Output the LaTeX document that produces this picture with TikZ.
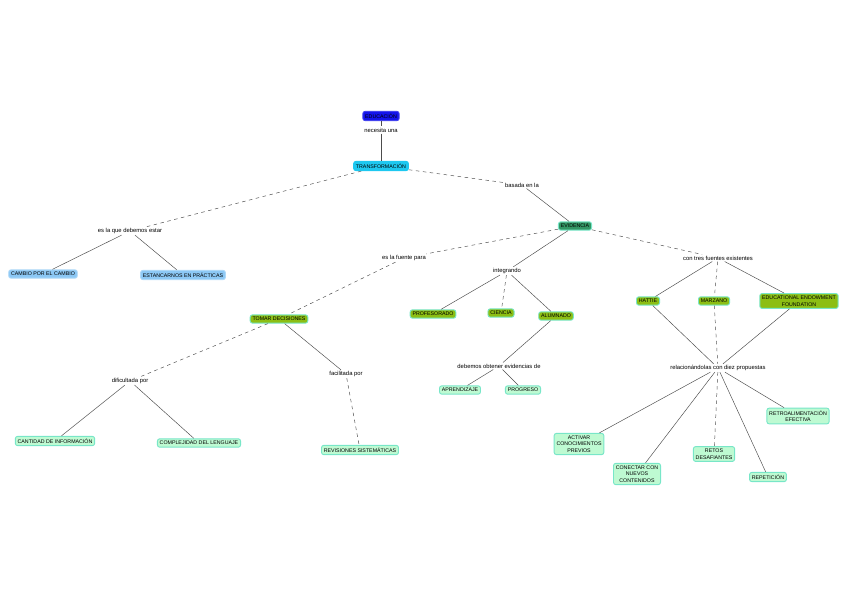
\documentclass[tikz,border=0pt]{standalone}
\usepackage{fontspec}
\setmainfont{Liberation Sans}
\usetikzlibrary{positioning}

\definecolor{cblue}{RGB}{20,20,235}
\definecolor{ccyan}{RGB}{30,200,240}
\definecolor{cteal}{RGB}{50,150,100}
\definecolor{clblue}{RGB}{140,200,245}
\definecolor{cgreen}{RGB}{140,190,20}
\definecolor{cmint}{RGB}{190,250,210}
\definecolor{cedge}{RGB}{120,230,200}

\begin{document}
\begin{tikzpicture}
    [%%%%%%%%%%%%%%%%%%%%%%%%%%%%%%
    x=0.03cm, y=-0.03cm,
    box/.style={rectangle,rounded corners=2pt,draw=cedge,thick,font=\fontsize{4.5}{5.5}\selectfont,inner sep=2pt,align=center},
    lnk/.style={font=\fontsize{5}{6}\selectfont,inner sep=1pt,fill=white},
    dsh/.style={draw=black!70,dashed,thin},
    sld/.style={draw=black!70,thin},
    ]%%%%%%%%%%%%%%%%%%%%%%%%%%%%%%
    \useasboundingbox (0,0) rectangle (848,599);

    % top
    \node[box,fill=cblue,draw=cblue!80] at (381,116) (educ) {EDUCACIÓN};
    \node[lnk] at (381,130) (necesita) {necesita una};
    \node[box,fill=ccyan,draw=ccyan] at (381,166) (transf) {TRANSFORMACIÓN};
    \node[lnk] at (522,185) (basada) {basada en la};
    \node[box,fill=cteal,draw=cedge] at (575,226) (evid) {EVIDENCIA};

    % left
    \node[lnk] at (130,231) (debemos) {es la que debemos estar};
    \node[box,fill=clblue,draw=clblue!70] at (43,274) (cambio) {CAMBIO POR EL CAMBIO};
    \node[box,fill=clblue,draw=clblue!70] at (183,275) (estancar) {ESTANCARNOS EN PRÁCTICAS};

    % decisiones
    \node[lnk] at (404,258) (fuente) {es la fuente para};
    \node[box,fill=cgreen] at (279,319) (tomar) {TOMAR DECISIONES};
    \node[lnk] at (130,381) (dificultada) {dificultada por};
    \node[box,fill=cmint] at (55,441) (cantidad) {CANTIDAD DE INFORMACIÓN};
    \node[box,fill=cmint] at (199,443) (complejidad) {COMPLEJIDAD DEL LENGUAJE};
    \node[lnk] at (346,374) (facilitada) {facilitada por};
    \node[box,fill=cmint] at (360,450) (revisiones) {REVISIONES SISTEMÁTICAS};

    % integrando
    \node[lnk] at (507,271) (integrando) {integrando};
    \node[box,fill=cgreen] at (433,314) (profesorado) {PROFESORADO};
    \node[box,fill=cgreen] at (501,313) (ciencia) {CIENCIA};
    \node[box,fill=cgreen] at (556,316) (alumnado) {ALUMNADO};
    \node[lnk] at (499,366) (obtener) {debemos obtener evidencias de};
    \node[box,fill=cmint] at (460,390) (aprendizaje) {APRENDIZAJE};
    \node[box,fill=cmint] at (523,390) (progreso) {PROGRESO};

    % fuentes
    \node[lnk] at (718,258) (tres) {con tres fuentes existentes};
    \node[box,fill=cgreen] at (648,301) (hattie) {HATTIE};
    \node[box,fill=cgreen] at (714,301) (marzano) {MARZANO};
    \node[box,fill=cgreen] at (799,301) (eef) {EDUCATIONAL ENDOWMENT\\FOUNDATION};
    \node[lnk] at (718,368) (diez) {relacionándolas con diez propuestas};
    \node[box,fill=cmint] at (579,444) (activar) {ACTIVAR\\CONOCIMIENTOS\\PREVIOS};
    \node[box,fill=cmint] at (637,474) (conectar) {CONECTAR CON\\NUEVOS\\CONTENIDOS};
    \node[box,fill=cmint] at (714,454) (retos) {RETOS\\DESAFIANTES};
    \node[box,fill=cmint] at (768,477) (repeticion) {REPETICIÓN};
    \node[box,fill=cmint] at (798,416) (retro) {RETROALIMENTACIÓN\\EFECTIVA};

    % connectors
    \begin{scope}[on background layer/.style={}]
    \draw[sld] (educ) -- (necesita) -- (transf);
    \draw[dsh] (transf) -- (basada);
    \draw[sld] (basada) -- (evid);
    \draw[dsh] (transf) -- (debemos);
    \draw[sld] (debemos) -- (cambio);
    \draw[sld] (debemos) -- (estancar);
    \draw[dsh] (evid) -- (fuente);
    \draw[dsh] (fuente) -- (tomar);
    \draw[dsh] (tomar) -- (dificultada);
    \draw[sld] (dificultada) -- (cantidad);
    \draw[sld] (dificultada) -- (complejidad);
    \draw[sld] (tomar) -- (facilitada);
    \draw[dsh] (facilitada) -- (revisiones);
    \draw[sld] (evid) -- (integrando);
    \draw[sld] (integrando) -- (profesorado);
    \draw[dsh] (integrando) -- (ciencia);
    \draw[sld] (integrando) -- (alumnado);
    \draw[sld] (alumnado) -- (obtener);
    \draw[sld] (obtener) -- (aprendizaje);
    \draw[sld] (obtener) -- (progreso);
    \draw[dsh] (evid) -- (tres);
    \draw[sld] (tres) -- (hattie);
    \draw[dsh] (tres) -- (marzano);
    \draw[sld] (tres) -- (eef);
    \draw[sld] (hattie) -- (diez);
    \draw[dsh] (marzano) -- (diez);
    \draw[sld] (eef) -- (diez);
    \draw[sld] (diez) -- (activar);
    \draw[sld] (diez) -- (conectar);
    \draw[dsh] (diez) -- (retos);
    \draw[sld] (diez) -- (repeticion);
    \draw[sld] (diez) -- (retro);
    \end{scope}
\end{tikzpicture}
\end{document}
